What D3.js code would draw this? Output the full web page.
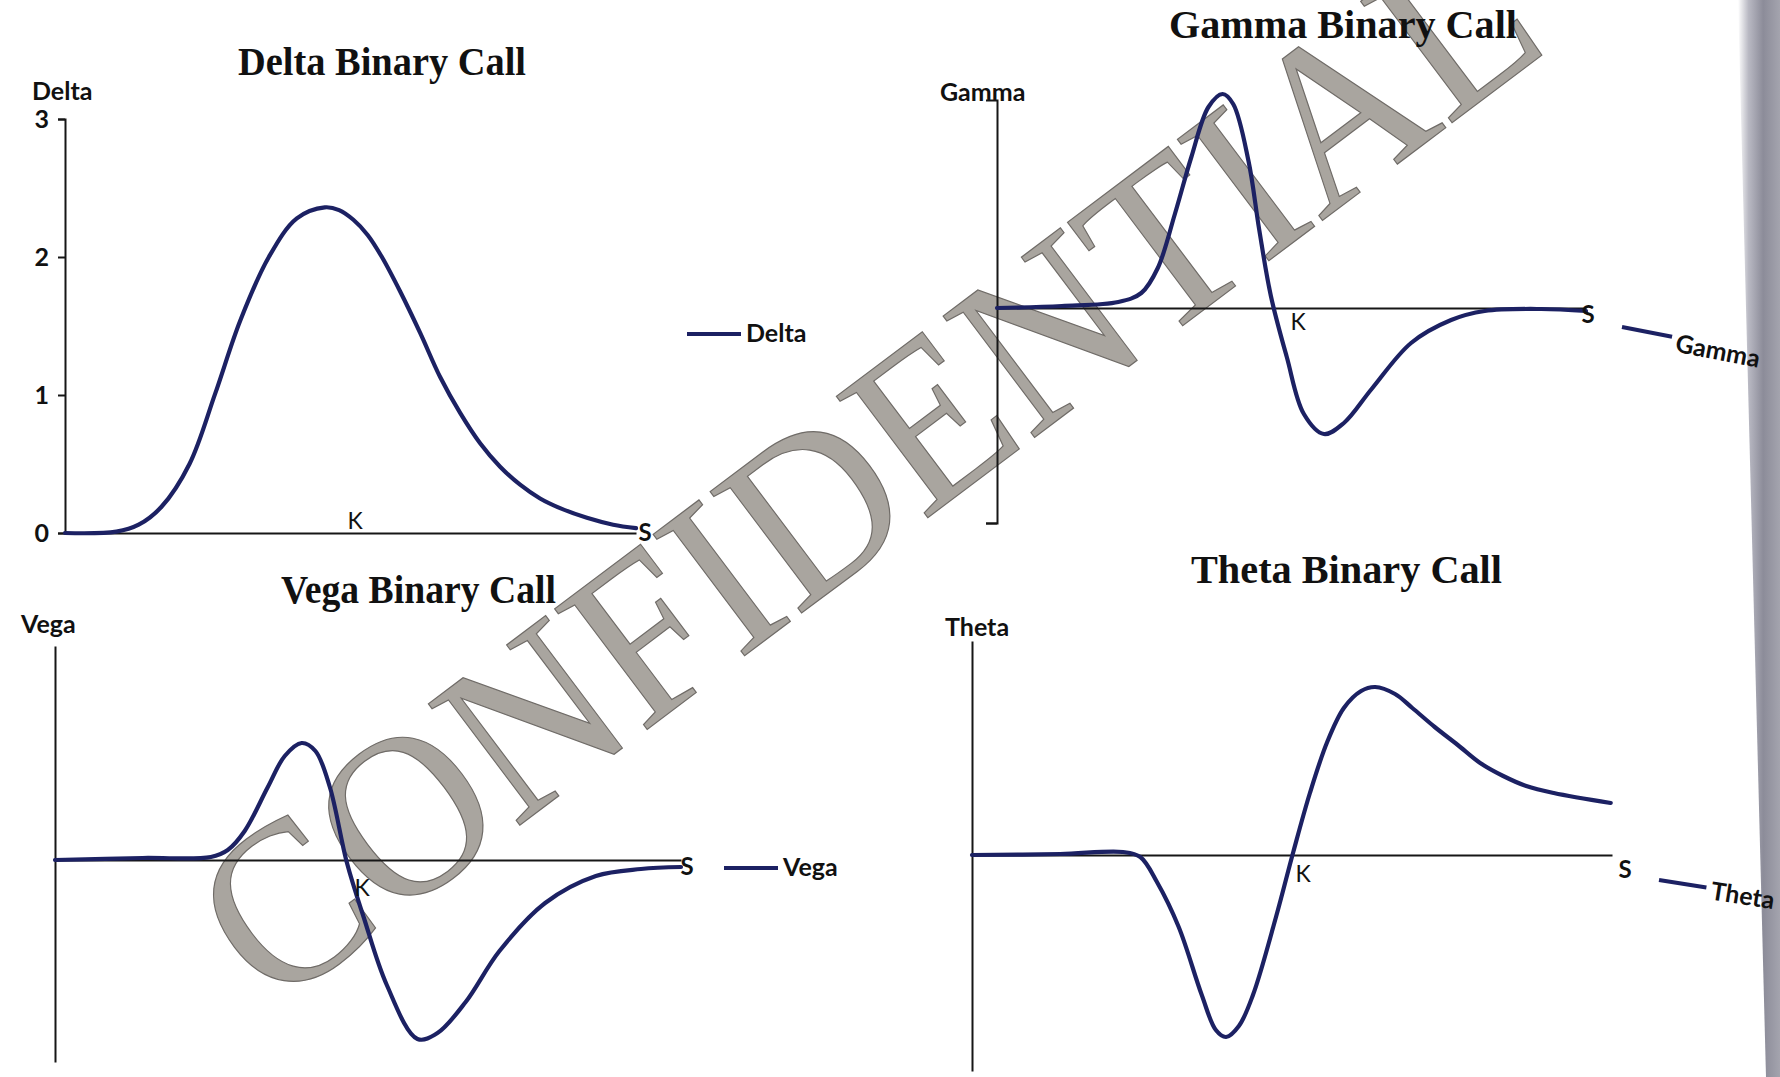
<!DOCTYPE html>
<html>
<head>
<meta charset="utf-8">
<script src="https://cdn.jsdelivr.net/npm/d3@7"></script>
<style>
  html, body { margin: 0; padding: 0; background: #ffffff; }
  svg { display: block; }
</style>
</head>
<body>
<svg id="chart" width="1780" height="1077"></svg>
<script>
// ---------------- DATA ----------------
// Spot price S on a 0..100 scale, Greek value in chart units
const deltaS = [0, 9, 12.9, 16.9, 21.8, 26.3, 30.7, 35.7, 40.6, 45.5, 48, 50.5, 53, 55.5, 58.7, 62.2, 65.7, 69.2, 72.7, 76.2, 79.7, 83.2, 86.7, 91.4, 96, 100];
const deltaV = [0, 0.01, 0.06, 0.19, 0.5, 1.01, 1.54, 2.0, 2.28, 2.36, 2.34, 2.27, 2.16, 2.0, 1.75, 1.45, 1.13, 0.87, 0.65, 0.48, 0.35, 0.25, 0.18, 0.11, 0.06, 0.035];
const deltaTicks = [0, 1, 2, 3];

const gammaS = [0, 11, 20.6, 24.5, 27.3, 30.2, 33, 35.9, 38.3, 40.1, 42.7, 44.5, 46.5, 49.2, 52.1, 55.5, 58.9, 63.6, 70.3, 77.1, 82.8, 92.4, 100];
const gammaV = [0, 0.02, 0.06, 0.15, 0.4, 0.94, 1.51, 2.01, 2.14, 2.04, 1.47, 0.79, 0.12, -0.49, -1.06, -1.26, -1.15, -0.81, -0.35, -0.12, -0.03, -0.01, -0.03];

const vegaS = [0, 14, 24.9, 27.6, 30.3, 34, 36.7, 39.4, 41.6, 43.9, 46.6, 49.3, 53, 57.9, 61.1, 65.6, 71, 78.3, 86.4, 93.6, 100];
const vegaV = [0, 0.02, 0.03, 0.1, 0.29, 0.73, 1.04, 1.17, 1.09, 0.73, -0.02, -0.57, -1.25, -1.79, -1.73, -1.42, -0.91, -0.43, -0.16, -0.09, -0.07];

const thetaS = [0, 13.8, 23.6, 26.3, 28.9, 32.3, 35.9, 38.1, 39.7, 41.7, 43.9, 47.5, 50.2, 52.8, 55.5, 58.1, 60.8, 63, 66.1, 68.8, 72.3, 75.9, 79.4, 83, 86.6, 90.9, 99.8];
const thetaV = [0, 0.01, 0.03, -0.02, -0.27, -0.72, -1.4, -1.75, -1.82, -1.71, -1.4, -0.62, 0.03, 0.62, 1.13, 1.47, 1.64, 1.68, 1.61, 1.47, 1.28, 1.1, 0.92, 0.79, 0.69, 0.62, 0.52];

const titles = ["Delta Binary Call", "Gamma Binary Call", "Vega Binary Call", "Theta Binary Call"];
const seriesNames = ["Delta", "Gamma", "Vega", "Theta"];
const strikeLabel = "K";
const spotLabel = "S";
const watermark = "CONFIDENTIAL";

// ---------------- LAYOUT ----------------
const svg = d3.select("#chart");
const LINE = "#1c2163";
const AXIS = "#161616";
const SANS = "Lato, 'Open Sans', sans-serif";
const SERIF = "'Liberation Serif', 'DejaVu Serif', serif";

// page shadow at right edge
const defs = svg.append("defs");
const g1 = defs.append("linearGradient").attr("id", "edge").attr("x1", "0").attr("x2", "1");
g1.append("stop").attr("offset", "0").attr("stop-color", "#ffffff");
g1.append("stop").attr("offset", "0.25").attr("stop-color", "#b9b9c3");
g1.append("stop").attr("offset", "0.6").attr("stop-color", "#8c8c99");
g1.append("stop").attr("offset", "1").attr("stop-color", "#a4a4ae");
svg.append("path")
  .attr("d", "M1738,0 L1780,0 L1780,1077 L1766,1077 Z")
  .attr("fill", "url(#edge)");

// watermark (behind the charts)
svg.append("text")
  .attr("transform", "translate(272,1012) rotate(-37)")
  .attr("font-family", SERIF)
  .attr("font-size", 232)
  .attr("textLength", 1605)
  .attr("lengthAdjust", "spacingAndGlyphs")
  .attr("fill", "#a29d97")
  .attr("fill-opacity", 0.92)
  .attr("stroke", "#6f6b67")
  .attr("stroke-width", 1.2)
  .text(watermark);

const charts = [
  { s: deltaS, v: deltaV, title: titles[0], name: seriesNames[0],
    xr: [65, 636], yd: [0, 3], yr: [533, 119], ticks: deltaTicks,
    titleX: 238, titleY: 75, titleW: 288,
    labX: 32, labY: 100,
    kX: 355, kY: 529, sX: 645, sY: 541,
    leg: { x: 687, y: 334, rot: 0, len: 54, ty: 8 } },
  { s: gammaS, v: gammaV, title: titles[1], name: seriesNames[1],
    xr: [997, 1586], yd: [-2.15, 2.08], yr: [523, 100], ticks: null, bottomTick: true,
    titleX: 1169, titleY: 38, titleW: 348,
    labX: 940, labY: 101,
    kX: 1298, kY: 330, sX: 1588, sY: 323,
    leg: { x: 1622, y: 327, rot: 11, len: 51, ty: 14 } },
  { s: vegaS, v: vegaV, title: titles[2], name: seriesNames[2],
    xr: [55, 681], yd: [-2.02, 2.14], yr: [1062, 646], ticks: null,
    titleX: 281, titleY: 603, titleW: 275,
    labX: 21, labY: 633,
    kX: 362, kY: 896, sX: 687, sY: 875,
    leg: { x: 724, y: 868, rot: 0, len: 54, ty: 8 } },
  { s: thetaS, v: thetaV, title: titles[3], name: seriesNames[3],
    xr: [972, 1612], yd: [-2.16, 2.14], yr: [1071, 641], ticks: null,
    titleX: 1191, titleY: 583, titleW: 311,
    labX: 945, labY: 636,
    kX: 1303, kY: 882, sX: 1625, sY: 878,
    leg: { x: 1659, y: 880, rot: 9, len: 48, ty: 11 } }
];

charts.forEach(c => {
  const g = svg.append("g");
  const x = d3.scaleLinear().domain([0, 100]).range(c.xr);
  const y = d3.scaleLinear().domain(c.yd).range(c.yr);

  // title
  g.append("text")
    .attr("x", c.titleX).attr("y", c.titleY)
    .attr("font-family", SERIF).attr("font-weight", 700)
    .attr("font-size", 41)
    .attr("textLength", c.titleW).attr("lengthAdjust", "spacingAndGlyphs")
    .attr("fill", "#111").text(c.title);

  // y axis title
  g.append("text")
    .attr("x", c.labX).attr("y", c.labY)
    .attr("font-family", SANS).attr("font-weight", 700).attr("font-size", 25)
    .attr("fill", "#111").text(c.name);

  // y axis
  let yAxis = d3.axisLeft(y).tickSizeOuter(0);
  if (c.ticks) {
    yAxis = yAxis.tickValues(c.ticks).tickSize(7).tickPadding(9).tickFormat(d3.format("d"));
  } else if (c.bottomTick) {
    yAxis = yAxis.tickValues([c.yd[0]]).tickSize(11).tickFormat(() => "");
  } else {
    yAxis = yAxis.tickValues([]);
  }
  const ya = g.append("g").attr("transform", `translate(${c.xr[0]},0)`).call(yAxis);
  ya.select(".domain").attr("stroke", AXIS).attr("stroke-width", 2);
  ya.selectAll(".tick line").attr("stroke", AXIS).attr("stroke-width", 2);
  ya.selectAll(".tick text")
    .attr("font-family", SANS).attr("font-weight", 700).attr("font-size", 25)
    .attr("fill", "#111");

  // x axis along zero
  const xa = g.append("g").attr("transform", `translate(0,${y(0)})`)
    .call(d3.axisBottom(x).tickValues([]).tickSizeOuter(0));
  xa.select(".domain").attr("stroke", AXIS).attr("stroke-width", 2);

  // curve
  const pts = c.s.map((s, i) => [s, c.v[i]]);
  g.append("path")
    .datum(pts)
    .attr("fill", "none")
    .attr("stroke", LINE)
    .attr("stroke-width", 4.2)
    .attr("stroke-linecap", "round")
    .attr("stroke-linejoin", "round")
    .attr("d", d3.line().x(d => x(d[0])).y(d => y(d[1])).curve(d3.curveCatmullRom.alpha(0.5)));

  // K and S labels
  g.append("text").attr("x", c.kX).attr("y", c.kY).attr("text-anchor", "middle")
    .attr("font-family", SANS).attr("font-weight", 400).attr("font-size", 23)
    .attr("fill", "#111").text(strikeLabel);
  g.append("text").attr("x", c.sX).attr("y", c.sY).attr("text-anchor", "middle")
    .attr("font-family", SANS).attr("font-weight", 700).attr("font-size", 24)
    .attr("fill", "#111").text(spotLabel);

  // legend
  const lg = g.append("g").attr("transform", `translate(${c.leg.x},${c.leg.y}) rotate(${c.leg.rot})`);
  lg.append("line").attr("x1", 0).attr("x2", c.leg.len).attr("y1", 0).attr("y2", 0)
    .attr("stroke", LINE).attr("stroke-width", 4.2);
  lg.append("text").attr("x", c.leg.len + 5).attr("y", c.leg.ty)
    .attr("font-family", SANS).attr("font-weight", 700).attr("font-size", 25)
    .attr("fill", "#111").text(c.name);
});
</script>
</body>
</html>
